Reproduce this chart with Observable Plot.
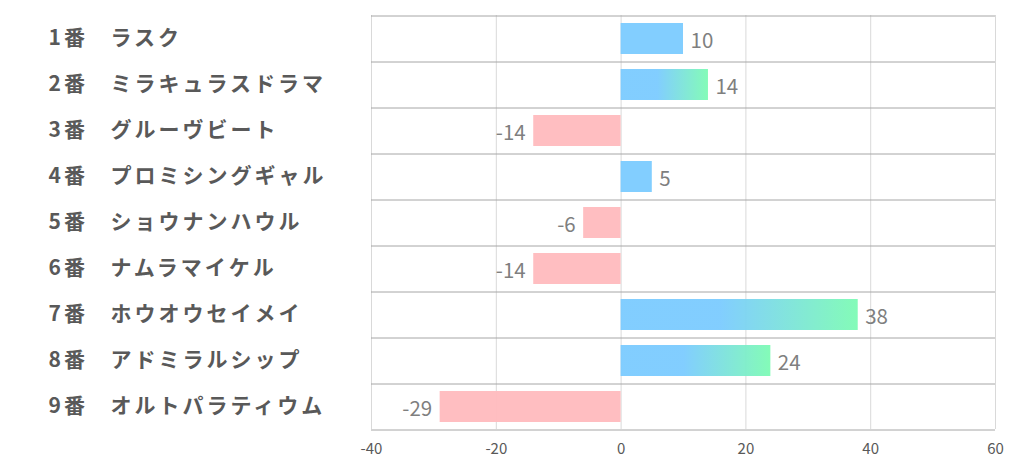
<!DOCTYPE html>
<html><head><meta charset="utf-8">
<script src="https://cdn.jsdelivr.net/npm/d3@7"></script>
<script src="https://cdn.jsdelivr.net/npm/@observablehq/plot@0.6"></script>
<style>
html,body{margin:0;padding:0;background:#fff;}
svg{font-family:"Noto Sans CJK JP","Noto Sans",sans-serif;}
.cat text{letter-spacing:3px;}
</style>
</head><body><div id="chart"></div>
<script>
const numbers = ["1番","2番","3番","4番","5番","6番","7番","8番","9番"];
const names = ["ラスク","ミラキュラスドラマ","グルーヴビート","プロミシングギャル","ショウナンハウル","ナムラマイケル","ホウオウセイメイ","アドミラルシップ","オルトパラティウム"];
const values = [10,14,-14,5,-6,-14,38,24,-29];
const xTicks = [-40,-20,0,20,40,60];

const data = numbers.map((n,i)=>({key:n+" "+names[i], num:n, name:names[i], v:values[i], i}));
const keys = data.map(d=>d.key);

const W=1022,H=470, mL=371, mR=27, mT=15, mB=41;

const plot = Plot.plot({
  width:W, height:H, marginLeft:mL, marginRight:mR, marginTop:mT, marginBottom:mB,
  style:{fontFamily:'"Noto Sans CJK JP","Noto Sans",sans-serif', background:"#fff"},
  x:{domain:[-40,60], ticks:xTicks, label:null},
  y:{domain:keys, paddingInner:0.33, paddingOuter:0.165, axis:null},
  marks:[
    Plot.ruleX(xTicks,{stroke:"#d9d9d9", strokeWidth:1}),
    Plot.ruleY(keys,{y:d=>d, dy:-23, stroke:"#a6a6a6", strokeWidth:1}),
    Plot.ruleY([keys[keys.length-1]],{dy:23, stroke:"#a6a6a6", strokeWidth:1}),
    Plot.barX(data,{x1:0, x2:"v", y:"key", fill:d=>d.v<0?"#ffbbbe":(d.v>10?`url(#grad${d.i})`:"#7bcbff"), fillOpacity:0.95}),
    Plot.text(data,{x:"v", y:"key", text:d=>String(d.v), textAnchor:"start", fill:"#7f7f7f", fontSize:20.5, filter:d=>d.v>=0, dx:7, dy:2}),
    Plot.text(data,{x:"v", y:"key", text:d=>String(d.v), textAnchor:"end", fill:"#7f7f7f", fontSize:20.5, filter:d=>d.v<0, dx:-8, dy:2}),
    Plot.text(data,{y:"key", text:"num", frameAnchor:"left", dx:48-mL, textAnchor:"start", fill:"#595959", fontSize:21, fontWeight:"bold", dy:-1, className:"cat"}),
    Plot.text(data,{y:"key", text:"name", frameAnchor:"left", dx:110-mL, textAnchor:"start", fill:"#595959", fontSize:21, fontWeight:"bold", dy:-1, className:"cat"}),
    Plot.axisX({ticks:xTicks, tickSize:0, tickPadding:14, fontSize:15, color:"#595959", tickFormat:d=>String(d), label:null})
  ]
});

const ns="http://www.w3.org/2000/svg";
const defs=document.createElementNS(ns,"defs");
data.forEach(d=>{
  const g=document.createElementNS(ns,"linearGradient");
  g.setAttribute("id","grad"+d.i);
  g.setAttribute("x1","0");g.setAttribute("x2","1");g.setAttribute("y1","0");g.setAttribute("y2","0");
  [[0,"#7bcbff"],[0.42,"#7bcbff"],[1,"#7dfbb4"]].forEach(([o,c])=>{
    const s=document.createElementNS(ns,"stop");
    s.setAttribute("offset",o);s.setAttribute("stop-color",c);g.appendChild(s);
  });
  defs.appendChild(g);
});
plot.insertBefore(defs, plot.firstChild);
document.getElementById("chart").appendChild(plot);
</script>
</body></html>
